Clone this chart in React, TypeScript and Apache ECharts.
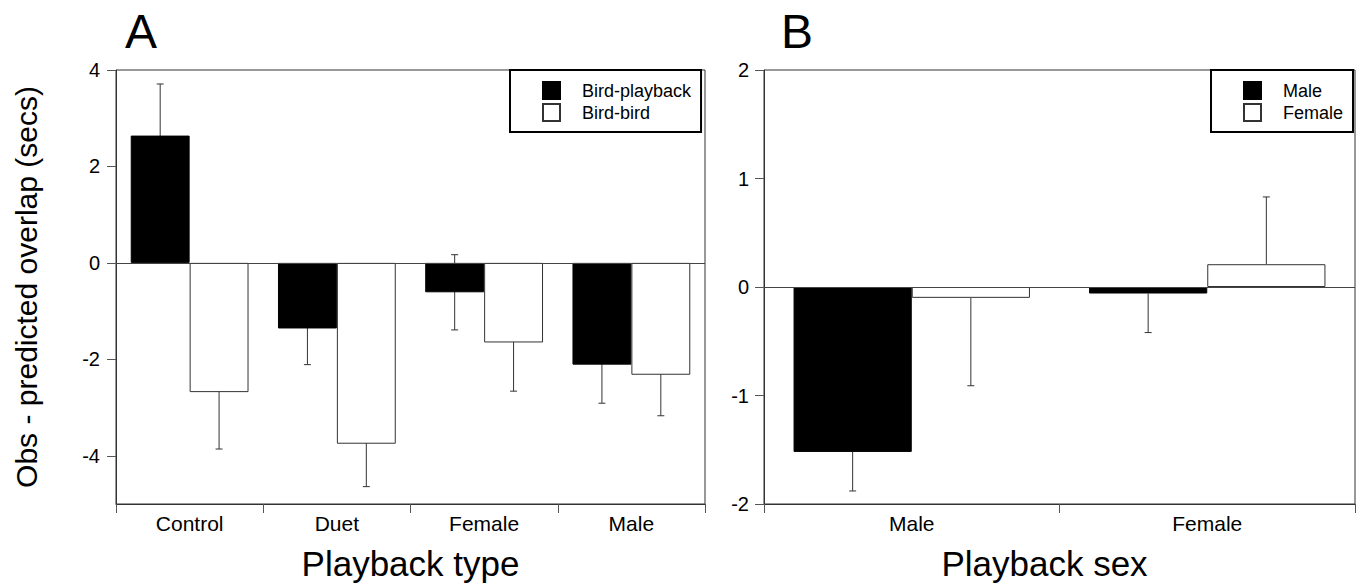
import React, { useEffect, useRef } from "react";
import * as echarts from "echarts";

const categoriesA = ["Control", "Duet", "Female", "Male"];
const birdPlayback = [2.64, -1.36, -0.61, -2.11];
const birdPlaybackSE = [1.07, 0.75, 0.78, 0.8];
const birdBird = [-2.68, -3.75, -1.65, -2.32];
const birdBirdSE = [1.18, 0.89, 1.01, 0.85];
const ticksA = [-4, -2, 0, 2, 4];

const categoriesB = ["Male", "Female"];
const maleResp = [-1.52, -0.06];
const maleSE = [0.36, 0.36];
const femaleResp = [-0.1, 0.21];
const femaleSE = [0.81, 0.62];

const FONT = "Liberation Sans";
const LINE = "#333";

function errorRenderer(twoSided: boolean) {
  return (params: any, api: any) => {
    const ci = api.value(0);
    const v = api.value(1);
    const se = api.value(2);
    const off = api.value(3);
    const band = api.size([1, 0])[0];
    const xc = api.coord([ci, 0])[0] + off * band * 0.2;
    let lo: number, hi: number;
    if (twoSided) {
      lo = v - se;
      hi = v + se;
    } else if (v >= 0) {
      lo = v;
      hi = v + se;
    } else {
      lo = v - se;
      hi = v;
    }
    const yLo = api.coord([ci, lo])[1];
    const yHi = api.coord([ci, hi])[1];
    const cap = 3.5;
    const style = { stroke: LINE, lineWidth: 1 };
    const children: any[] = [
      { type: "line", shape: { x1: xc, y1: yLo, x2: xc, y2: yHi }, style },
    ];
    if (twoSided || v < 0) {
      children.push({ type: "line", shape: { x1: xc - cap, y1: yLo, x2: xc + cap, y2: yLo }, style });
    }
    if (twoSided || v >= 0) {
      children.push({ type: "line", shape: { x1: xc - cap, y1: yHi, x2: xc + cap, y2: yHi }, style });
    }
    return { type: "group", children };
  };
}

export default function App() {
  const ref = useRef<HTMLDivElement>(null);
  useEffect(() => {
    if (!ref.current) return;
    const chart = echarts.init(ref.current, null, { renderer: "svg" });

    const errA: any[] = [];
    categoriesA.forEach((_, i) => {
      errA.push([i, birdPlayback[i], birdPlaybackSE[i], -1]);
      errA.push([i, birdBird[i], birdBirdSE[i], 1]);
    });
    const errB: any[] = [];
    categoriesB.forEach((_, i) => {
      errB.push([i, maleResp[i], maleSE[i], -1]);
      errB.push([i, femaleResp[i], femaleSE[i], 1]);
    });

    const zeroLine = {
      silent: true,
      symbol: "none",
      label: { show: false },
      lineStyle: { color: "#444", width: 1, type: "solid" },
      data: [{ yAxis: 0 }],
    };

    const catAxisCommon = {
      type: "category",
      axisLine: { show: true, onZero: false, lineStyle: { color: LINE, width: 1 } },
      axisTick: { show: true, alignWithLabel: false, length: 9, lineStyle: { color: "#555" } },
      axisLabel: { color: "#000", fontFamily: FONT, fontSize: 21, margin: 9 },
      nameLocation: "middle",
      nameGap: 42,
    };
    const valAxisCommon = {
      type: "value",
      splitLine: { show: false },
      axisLine: { show: true, onZero: false, lineStyle: { color: LINE, width: 1 } },
      axisTick: { show: true, length: 9, lineStyle: { color: "#555" } },
    };

    const legendCommon = {
      orient: "vertical",
      icon: "rect",
      itemWidth: 17,
      itemHeight: 17,
      itemGap: 3,
      borderColor: "#000",
      borderWidth: 2,
      backgroundColor: "#fff",
      textStyle: { fontFamily: FONT, fontSize: 18, color: "#000", lineHeight: 17, padding: [0, 0, 0, 17] },
      selectedMode: false,
    };

    chart.setOption({
      animation: false,
      backgroundColor: "#fff",
      graphic: [
        { type: "text", x: 125, y: 31, style: { text: "A", fontFamily: FONT, fontSize: 48, fill: "#000", verticalAlign: "middle", align: "left" } },
        { type: "text", x: 781, y: 31, style: { text: "B", fontFamily: FONT, fontSize: 48, fill: "#000", verticalAlign: "middle", align: "left" } },
      ],
      grid: [
        { left: 116, top: 70, width: 589, height: 434, show: true, borderColor: LINE, borderWidth: 1, outerBoundsMode: "none" },
        { left: 764, top: 70, width: 591, height: 434, show: true, borderColor: LINE, borderWidth: 1, outerBoundsMode: "none" },
      ],
      legend: [
        {
          ...legendCommon,
          left: 510,
          top: 70,
          padding: [11, 10, 10, 32],
          data: ["Bird-playback", "Bird-bird"],
        },
        {
          ...legendCommon,
          left: 1211,
          top: 70,
          padding: [11, 10, 10, 32],
          data: ["Male", "Female"],
        },
      ],
      xAxis: [
        {
          ...catAxisCommon,
          gridIndex: 0,
          data: categoriesA,
          name: "Playback type",
          nameTextStyle: { fontFamily: FONT, fontSize: 35, color: "#000" },
        },
        {
          ...catAxisCommon,
          gridIndex: 1,
          data: categoriesB,
          name: "Playback sex",
          nameTextStyle: { fontFamily: FONT, fontSize: 35, color: "#000", padding: [0, 30, 0, 0] },
        },
      ],
      yAxis: [
        {
          ...valAxisCommon,
          gridIndex: 0,
          min: -5,
          max: 4,
          axisTick: { ...valAxisCommon.axisTick, customValues: ticksA },
          axisLabel: { customValues: ticksA, color: "#000", fontFamily: FONT, fontSize: 20, margin: 16 },
          name: "Obs - predicted overlap (secs)",
          nameLocation: "middle",
          nameGap: 75,
          nameTextStyle: { fontFamily: FONT, fontSize: 30, color: "#000" },
        },
        {
          ...valAxisCommon,
          gridIndex: 1,
          min: -2,
          max: 2,
          interval: 1,
          axisLabel: { color: "#000", fontFamily: FONT, fontSize: 20, margin: 15 },
        },
      ],
      series: [
        {
          name: "Bird-playback",
          type: "bar",
          xAxisIndex: 0,
          yAxisIndex: 0,
          data: birdPlayback,
          barGap: "0%",
          barCategoryGap: "20%",
          z: 3,
          itemStyle: { color: "#000", borderColor: "#000", borderWidth: 1 },
          markLine: zeroLine,
        },
        {
          name: "Bird-bird",
          type: "bar",
          xAxisIndex: 0,
          yAxisIndex: 0,
          data: birdBird,
          barGap: "0%",
          barCategoryGap: "20%",
          z: 3,
          itemStyle: { color: "#fff", borderColor: LINE, borderWidth: 1 },
        },
        {
          name: "errA",
          type: "custom",
          xAxisIndex: 0,
          yAxisIndex: 0,
          z: 1,
          silent: true,
          renderItem: errorRenderer(true),
          data: errA,
        },
        {
          name: "Male",
          type: "bar",
          xAxisIndex: 1,
          yAxisIndex: 1,
          data: maleResp,
          barGap: "0%",
          barCategoryGap: "20%",
          z: 3,
          itemStyle: { color: "#000", borderColor: "#000", borderWidth: 1 },
          markLine: zeroLine,
        },
        {
          name: "Female",
          type: "bar",
          xAxisIndex: 1,
          yAxisIndex: 1,
          data: femaleResp,
          barGap: "0%",
          barCategoryGap: "20%",
          z: 3,
          itemStyle: { color: "#fff", borderColor: LINE, borderWidth: 1 },
        },
        {
          name: "errB",
          type: "custom",
          xAxisIndex: 1,
          yAxisIndex: 1,
          z: 1,
          silent: true,
          renderItem: errorRenderer(false),
          data: errB,
        },
      ],
    });
    return () => chart.dispose();
  }, []);

  return (
    <div
      ref={ref}
      style={{ position: "absolute", left: 0, top: 0, width: 1359, height: 584, background: "#fff" }}
    />
  );
}
